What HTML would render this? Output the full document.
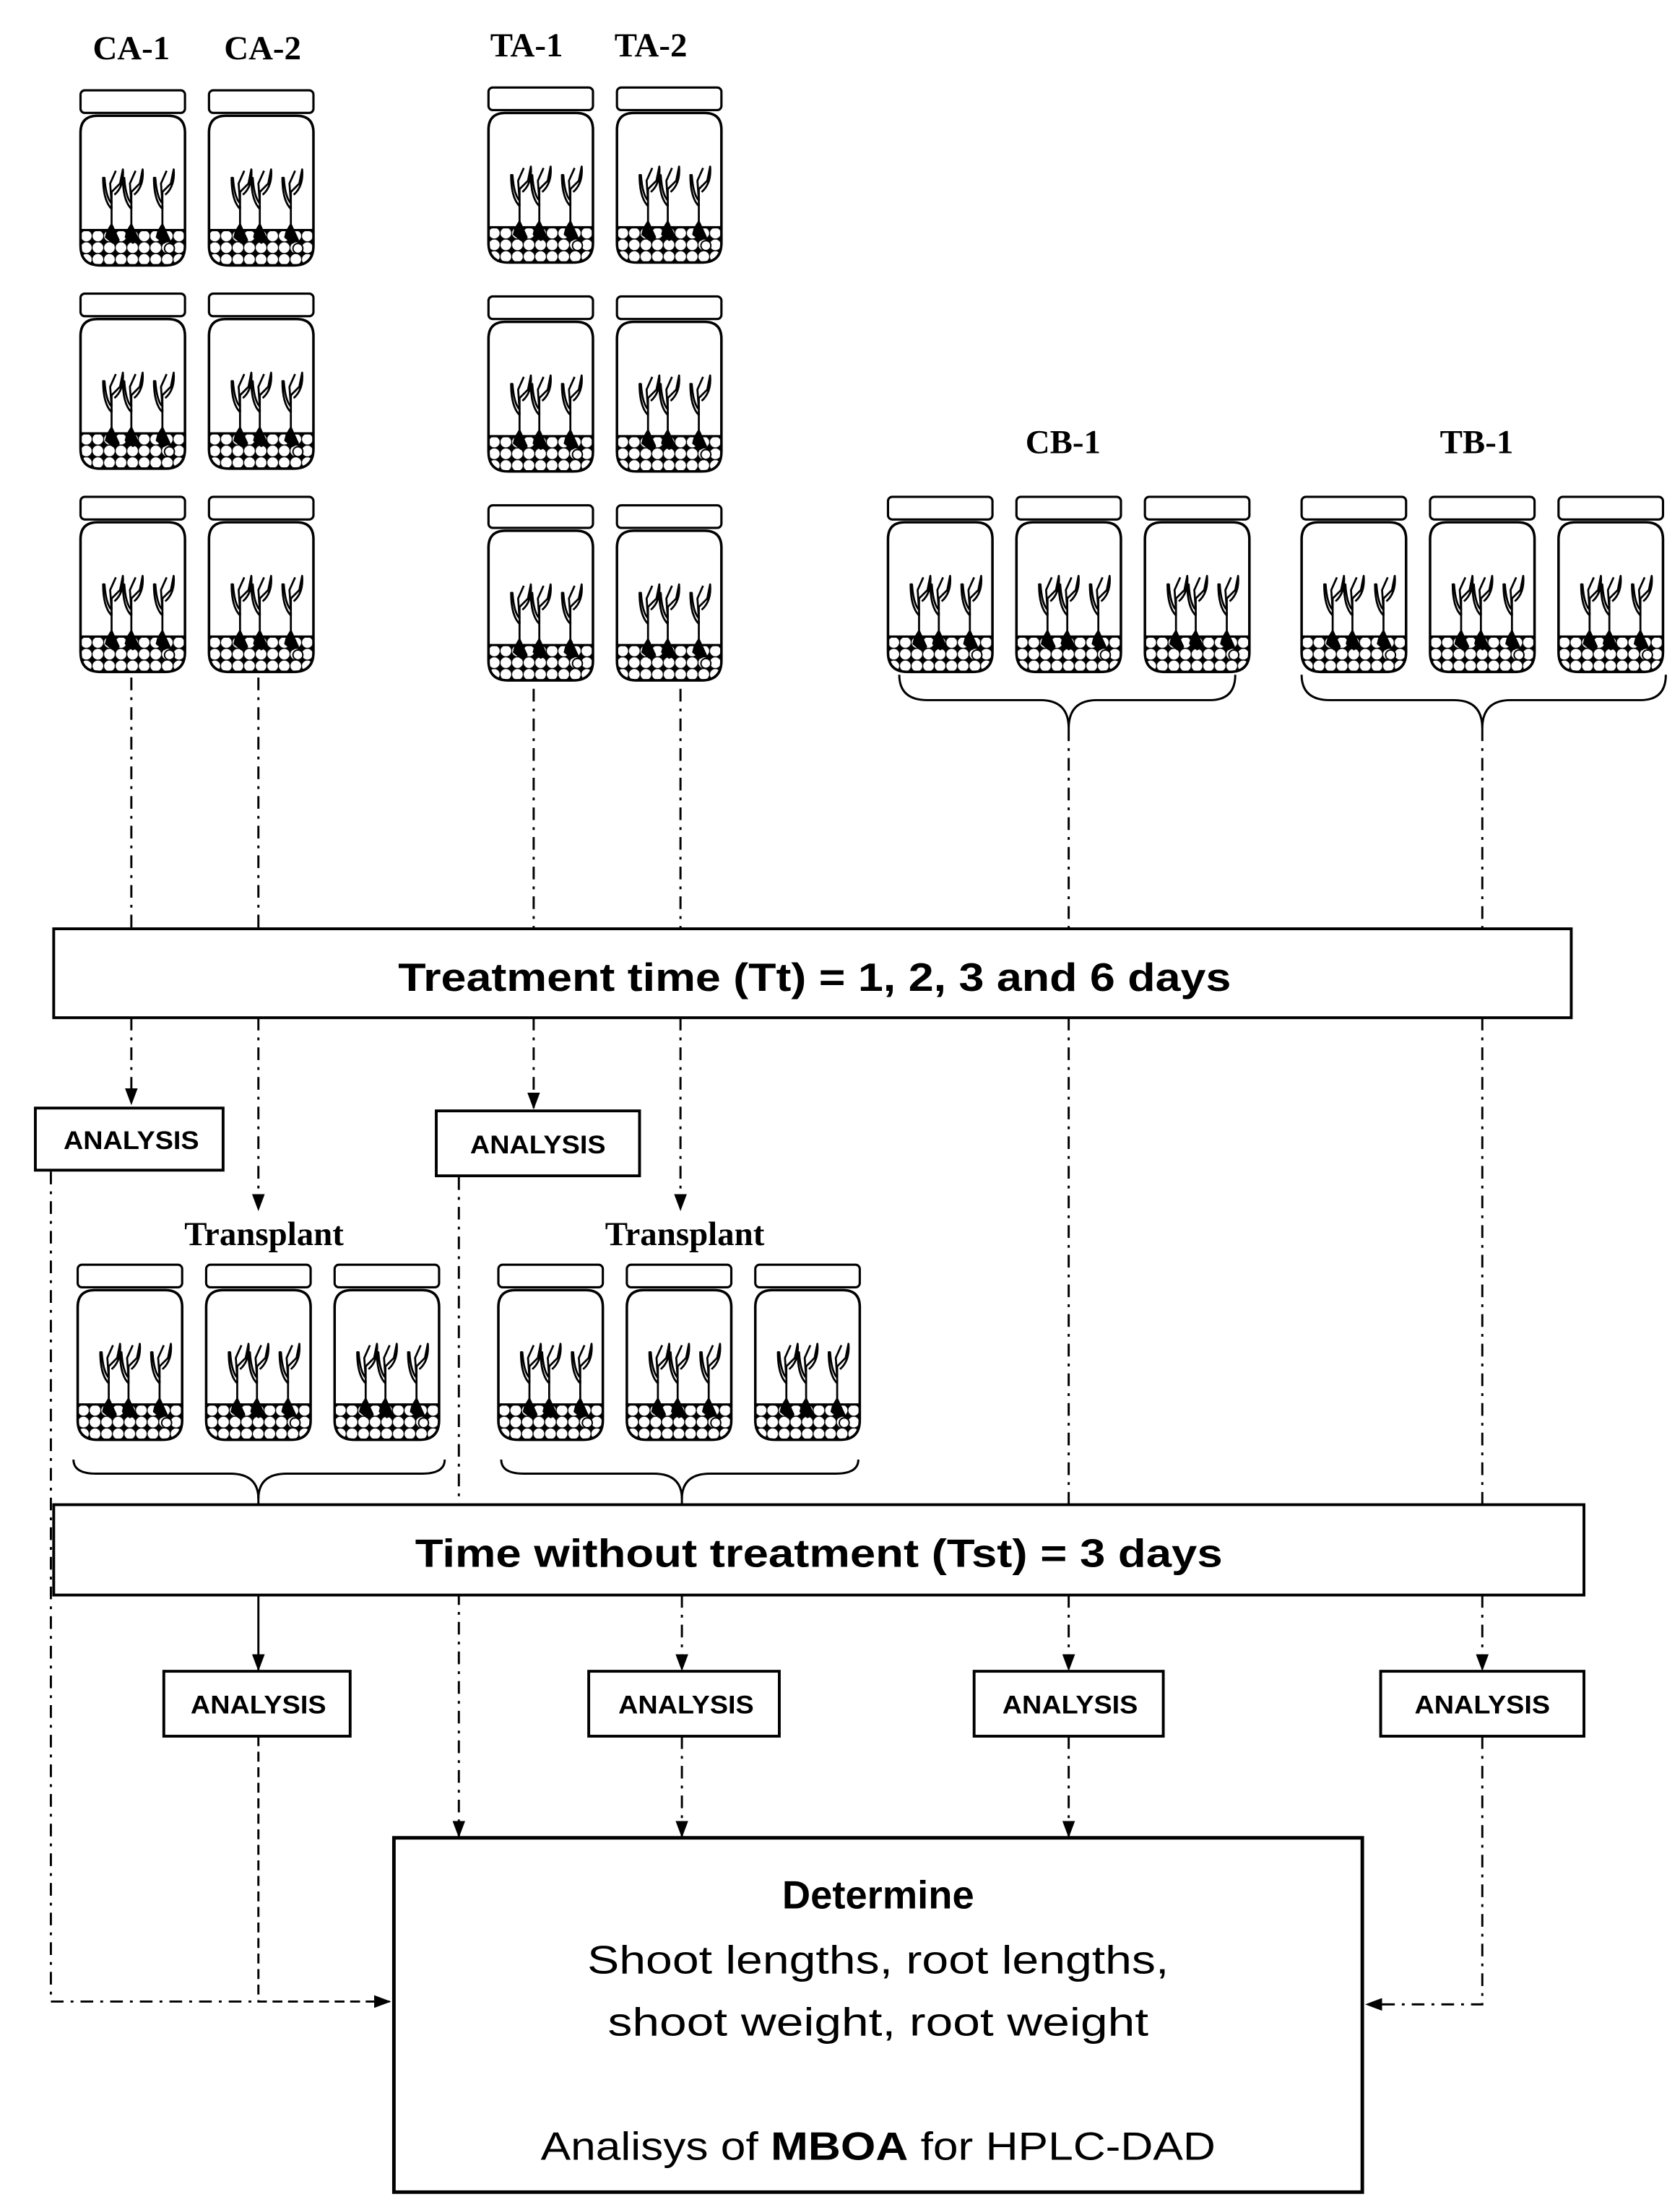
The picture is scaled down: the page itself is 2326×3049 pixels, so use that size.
<!DOCTYPE html>
<html><head><meta charset="utf-8">
<style>
html,body{margin:0;padding:0;background:#fff;}
svg{display:block;}
.sr{font-family:"Liberation Serif",serif;font-weight:bold;font-size:24px;}
.sn{font-family:"Liberation Sans",sans-serif;}
</style></head>
<body>
<svg width="2326" height="3049" viewBox="0 0 1190 1560" xmlns="http://www.w3.org/2000/svg">
<defs>
<marker id="ar" markerWidth="12" markerHeight="12" refX="11" refY="6" orient="auto" markerUnits="userSpaceOnUse">
<path d="M0,1.5 L12,6 L0,10.5 Z" fill="#000"/>
</marker>
<clipPath id="bc"><path d="M0,30 Q0,18 12,18 H62 Q74,18 74,30 V110 Q74,124 60,124 H14 Q0,124 0,110 Z"/></clipPath>
<pattern id="pb" x="0" y="99" width="8.2" height="8.3" patternUnits="userSpaceOnUse">
<rect width="8.2" height="8.3" fill="#000"/>
<circle cx="4.1" cy="4.15" r="3.8" fill="#fff"/>
</pattern>
<g id="pl" fill="none" stroke="#000" stroke-width="1.4" stroke-linejoin="round">
<path d="M0,100 V82"/>
<path d="M0,84 Q-6,78 -6,62 L-5,62 Q-4,76 0,80"/>
<path d="M0,84 V72 L6,66 L8,56 Q9,68 2,74"/>
<path d="M0,80 L-1,66 L3,57"/>
<path d="M-3,100 L0,95 L5,106 L1,108 L-4,104 Z" fill="#000"/>
</g>
<g id="jar">
<rect x="0" y="0" width="74" height="16" rx="3" fill="#fff" stroke="#000" stroke-width="1.6"/>
<g clip-path="url(#bc)">
<rect x="0" y="99" width="74" height="26" fill="url(#pb)"/>
</g>
<line x1="0" y1="99" x2="74" y2="99" stroke="#000" stroke-width="1.6"/>
<use href="#pl" x="22"/>
<use href="#pl" x="36"/>
<use href="#pl" x="58"/>
<circle cx="63" cy="112" r="3.5" fill="#fff" stroke="#000" stroke-width="1"/>
<path d="M0,30 Q0,18 12,18 H62 Q74,18 74,30 V110 Q74,124 60,124 H14 Q0,124 0,110 Z" fill="none" stroke="#000" stroke-width="1.8"/>
</g>
</defs>

<text class="sr" x="93" y="42" text-anchor="middle">CA-1</text>
<text class="sr" x="186" y="42" text-anchor="middle">CA-2</text>
<text class="sr" x="373" y="40" text-anchor="middle">TA-1</text>
<text class="sr" x="461" y="40" text-anchor="middle">TA-2</text>
<text class="sr" x="753" y="321" text-anchor="middle">CB-1</text>
<text class="sr" x="1046" y="321" text-anchor="middle">TB-1</text>
<text class="sr" x="187" y="882" text-anchor="middle">Transplant</text>
<text class="sr" x="485" y="882" text-anchor="middle">Transplant</text>

<use href="#jar" x="57" y="64"/><use href="#jar" x="148" y="64"/>
<use href="#jar" x="57" y="208"/><use href="#jar" x="148" y="208"/>
<use href="#jar" x="57" y="352"/><use href="#jar" x="148" y="352"/>
<use href="#jar" x="346" y="62"/><use href="#jar" x="437" y="62"/>
<use href="#jar" x="346" y="210"/><use href="#jar" x="437" y="210"/>
<use href="#jar" x="346" y="358"/><use href="#jar" x="437" y="358"/>
<use href="#jar" x="629" y="352"/><use href="#jar" x="720" y="352"/><use href="#jar" x="811" y="352"/>
<use href="#jar" x="922" y="352"/><use href="#jar" x="1013" y="352"/><use href="#jar" x="1104" y="352"/>
<use href="#jar" x="55" y="896"/><use href="#jar" x="146" y="896"/><use href="#jar" x="237" y="896"/>
<use href="#jar" x="353" y="896"/><use href="#jar" x="444" y="896"/><use href="#jar" x="535" y="896"/>

<g fill="none" stroke="#000" stroke-width="1.5">
<path d="M637,478 Q637,496 657,496 H737 Q757,496 757,516 Q757,496 777,496 H857 Q875,496 875,478"/>
<path d="M922,478 Q922,496 942,496 H1030 Q1050,496 1050,516 Q1050,496 1070,496 H1162 Q1180,496 1180,478"/>
<path d="M52,1034 Q52,1044 68,1044 H163 Q183,1044 183,1062 Q183,1044 203,1044 H299 Q315,1044 315,1034"/>
<path d="M355,1034 Q355,1044 371,1044 H463 Q483,1044 483,1062 Q483,1044 503,1044 H592 Q608,1044 608,1034"/>
<line x1="183" y1="1060" x2="183" y2="1066"/>
<line x1="483" y1="1060" x2="483" y2="1066"/>
</g>

<g fill="none" stroke="#000" stroke-width="1.5" stroke-dasharray="9 5 2 5">
<line x1="93" y1="480" x2="93" y2="658"/>
<line x1="183" y1="480" x2="183" y2="658"/>
<line x1="378" y1="488" x2="378" y2="658"/>
<line x1="482" y1="488" x2="482" y2="658"/>
<line x1="757" y1="516" x2="757" y2="658"/>
<line x1="1050" y1="516" x2="1050" y2="658"/>
<line x1="93" y1="721" x2="93" y2="782" marker-end="url(#ar)"/>
<line x1="183" y1="721" x2="183" y2="857" marker-end="url(#ar)"/>
<line x1="378" y1="721" x2="378" y2="785" marker-end="url(#ar)"/>
<line x1="482" y1="721" x2="482" y2="857" marker-end="url(#ar)"/>
<line x1="757" y1="721" x2="757" y2="1066"/>
<line x1="1050" y1="721" x2="1050" y2="1066"/>
<line x1="757" y1="1130" x2="757" y2="1183" marker-end="url(#ar)"/>
<line x1="1050" y1="1130" x2="1050" y2="1183" marker-end="url(#ar)"/>
<line x1="483" y1="1130" x2="483" y2="1183" marker-end="url(#ar)"/>
<line x1="325" y1="834" x2="325" y2="1301" marker-end="url(#ar)"/>
<line x1="483" y1="1230" x2="483" y2="1301" marker-end="url(#ar)"/>
<line x1="757" y1="1230" x2="757" y2="1301" marker-end="url(#ar)"/>
<polyline points="36,830 36,1418 183,1418"/>
<polyline points="1050,1230 1050,1420 968,1420" marker-end="url(#ar)"/>
</g>
<line x1="183" y1="1130" x2="183" y2="1183" stroke="#000" stroke-width="1.5" marker-end="url(#ar)"/>
<polyline points="183,1230 183,1418 276,1418" fill="none" stroke="#000" stroke-width="1.5" stroke-dasharray="7 4" marker-end="url(#ar)"/>

<g fill="#fff" stroke="#000" stroke-width="2">
<rect x="38" y="658" width="1075" height="63"/>
<rect x="25" y="785" width="133" height="44"/>
<rect x="309" y="787" width="144" height="46"/>
<rect x="38" y="1066" width="1084" height="64"/>
<rect x="116" y="1184" width="132" height="46"/>
<rect x="417" y="1184" width="135" height="46"/>
<rect x="690" y="1184" width="134" height="46"/>
<rect x="978" y="1184" width="144" height="46"/>
<rect x="279" y="1302" width="686" height="251" stroke-width="2.5"/>
</g>

<g class="sn" text-anchor="middle">
<text x="577" y="702" font-size="28" font-weight="bold" textLength="590" lengthAdjust="spacingAndGlyphs">Treatment time (Tt) = 1, 2, 3 and 6 days</text>
<text x="580" y="1110" font-size="28" font-weight="bold" textLength="572" lengthAdjust="spacingAndGlyphs">Time without treatment (Tst) = 3 days</text>
<g font-size="18" font-weight="bold">
<text x="93" y="814" textLength="96" lengthAdjust="spacingAndGlyphs">ANALYSIS</text>
<text x="381" y="817" textLength="96" lengthAdjust="spacingAndGlyphs">ANALYSIS</text>
<text x="183" y="1214" textLength="96" lengthAdjust="spacingAndGlyphs">ANALYSIS</text>
<text x="486" y="1214" textLength="96" lengthAdjust="spacingAndGlyphs">ANALYSIS</text>
<text x="758" y="1214" textLength="96" lengthAdjust="spacingAndGlyphs">ANALYSIS</text>
<text x="1050" y="1214" textLength="96" lengthAdjust="spacingAndGlyphs">ANALYSIS</text>
</g>
<text x="622" y="1352" font-size="28" font-weight="bold" textLength="136" lengthAdjust="spacingAndGlyphs">Determine</text>
<text x="622" y="1398" font-size="28" textLength="412" lengthAdjust="spacingAndGlyphs">Shoot lengths, root lengths,</text>
<text x="622" y="1442" font-size="28" textLength="383" lengthAdjust="spacingAndGlyphs">shoot weight, root weight</text>
<text x="622" y="1530" font-size="28" textLength="478" lengthAdjust="spacingAndGlyphs">Analisys of <tspan font-weight="bold">MBOA</tspan> for HPLC-DAD</text>
</g>
</svg>
</body></html>
